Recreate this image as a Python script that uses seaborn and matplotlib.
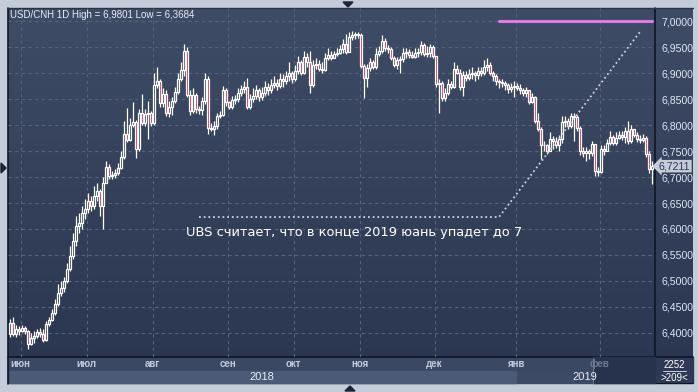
import numpy as np
import matplotlib
matplotlib.use("Agg")
import matplotlib.pyplot as plt
from matplotlib import transforms
from matplotlib.patches import Rectangle, Polygon
from matplotlib.colors import LinearSegmentedColormap
import seaborn as sns

# ---- data: USD/CNH daily bars (open of each bar = previous close) ----
first_open = 6.397
close = [6.419, 6.397, 6.407, 6.403, 6.409, 6.403, 6.378, 6.390, 6.394, 6.401,
         6.397, 6.386, 6.417, 6.424, 6.438, 6.455, 6.477, 6.486, 6.500, 6.523,
         6.548, 6.577, 6.606, 6.612, 6.631, 6.639, 6.654, 6.645, 6.664, 6.674,
         6.645, 6.689, 6.720, 6.703, 6.704, 6.708, 6.718, 6.739, 6.784, 6.772,
         6.801, 6.807, 6.755, 6.824, 6.805, 6.822, 6.824, 6.805, 6.878, 6.886,
         6.842, 6.861, 6.824, 6.836, 6.847, 6.865, 6.890, 6.907, 6.944, 6.859,
         6.828, 6.859, 6.832, 6.830, 6.847, 6.890, 6.795, 6.793, 6.799, 6.817,
         6.820, 6.867, 6.844, 6.836, 6.849, 6.851, 6.863, 6.869, 6.874, 6.836,
         6.851, 6.857, 6.867, 6.855, 6.863, 6.874, 6.867, 6.878, 6.882, 6.876,
         6.890, 6.886, 6.894, 6.901, 6.890, 6.905, 6.921, 6.901, 6.932, 6.921,
         6.878, 6.917, 6.918, 6.909, 6.907, 6.930, 6.936, 6.929, 6.938, 6.940,
         6.946, 6.957, 6.942, 6.971, 6.973, 6.975, 6.974, 6.915, 6.892, 6.911,
         6.921, 6.913, 6.938, 6.944, 6.963, 6.948, 6.946, 6.929, 6.917, 6.925,
         6.927, 6.940, 6.941, 6.936, 6.932, 6.940, 6.941, 6.954, 6.938, 6.940,
         6.950, 6.934, 6.880, 6.882, 6.853, 6.863, 6.880, 6.873, 6.909, 6.901,
         6.874, 6.896, 6.892, 6.898, 6.901, 6.896, 6.905, 6.900, 6.913, 6.917,
         6.901, 6.894, 6.886, 6.884, 6.882, 6.878, 6.869, 6.874, 6.876, 6.871,
         6.867, 6.863, 6.867, 6.845, 6.855, 6.809, 6.793, 6.761, 6.762, 6.751,
         6.774, 6.770, 6.762, 6.774, 6.807, 6.809, 6.799, 6.818, 6.815, 6.795,
         6.751, 6.747, 6.751, 6.747, 6.764, 6.712, 6.710, 6.755, 6.751, 6.766,
         6.778, 6.766, 6.776, 6.782, 6.778, 6.789, 6.770, 6.793, 6.782, 6.774,
         6.772, 6.776, 6.745, 6.716, 6.7211]
high = [6.426, 6.430, 6.415, 6.413, 6.415, 6.413, 6.405, 6.399, 6.403, 6.407,
        6.409, 6.407, 6.423, 6.430, 6.446, 6.465, 6.494, 6.500, 6.508, 6.535,
        6.567, 6.592, 6.625, 6.631, 6.645, 6.658, 6.670, 6.664, 6.683, 6.689,
        6.677, 6.701, 6.732, 6.726, 6.712, 6.716, 6.728, 6.751, 6.809, 6.834,
        6.813, 6.844, 6.811, 6.832, 6.861, 6.832, 6.847, 6.828, 6.900, 6.913,
        6.890, 6.871, 6.867, 6.847, 6.855, 6.874, 6.901, 6.921, 6.957, 6.950,
        6.867, 6.871, 6.863, 6.838, 6.855, 6.901, 6.894, 6.805, 6.809, 6.824,
        6.828, 6.876, 6.871, 6.847, 6.857, 6.859, 6.871, 6.878, 6.886, 6.892,
        6.861, 6.871, 6.878, 6.871, 6.874, 6.886, 6.882, 6.890, 6.894, 6.890,
        6.901, 6.898, 6.905, 6.921, 6.905, 6.917, 6.934, 6.925, 6.944, 6.940,
        6.944, 6.925, 6.929, 6.925, 6.921, 6.940, 6.948, 6.944, 6.944, 6.948,
        6.954, 6.967, 6.975, 6.979, 6.981, 6.980, 6.9801, 6.977, 6.919, 6.919,
        6.929, 6.925, 6.948, 6.952, 6.973, 6.969, 6.954, 6.950, 6.934, 6.932,
        6.934, 6.948, 6.948, 6.946, 6.944, 6.948, 6.948, 6.963, 6.959, 6.952,
        6.957, 6.954, 6.925, 6.890, 6.886, 6.871, 6.890, 6.886, 6.921, 6.917,
        6.909, 6.905, 6.905, 6.909, 6.913, 6.905, 6.913, 6.913, 6.925, 6.929,
        6.921, 6.905, 6.898, 6.890, 6.890, 6.886, 6.882, 6.882, 6.886, 6.882,
        6.880, 6.871, 6.874, 6.863, 6.863, 6.857, 6.824, 6.797, 6.770, 6.764,
        6.786, 6.780, 6.778, 6.782, 6.817, 6.817, 6.813, 6.824, 6.824, 6.820,
        6.799, 6.759, 6.759, 6.755, 6.770, 6.761, 6.720, 6.762, 6.761, 6.774,
        6.789, 6.782, 6.786, 6.789, 6.789, 6.797, 6.809, 6.801, 6.793, 6.786,
        6.782, 6.784, 6.780, 6.751, 6.732]
low = [6.392, 6.394, 6.392, 6.395, 6.401, 6.397, 6.3684, 6.376, 6.380, 6.390,
       6.392, 6.382, 6.384, 6.413, 6.423, 6.434, 6.452, 6.471, 6.479, 6.496,
       6.519, 6.542, 6.567, 6.592, 6.600, 6.620, 6.631, 6.635, 6.639, 6.654,
       6.625, 6.600, 6.689, 6.697, 6.697, 6.699, 6.705, 6.716, 6.735, 6.768,
       6.770, 6.797, 6.737, 6.751, 6.801, 6.799, 6.774, 6.799, 6.801, 6.871,
       6.836, 6.836, 6.817, 6.815, 6.820, 6.842, 6.861, 6.886, 6.894, 6.855,
       6.820, 6.824, 6.824, 6.822, 6.820, 6.840, 6.784, 6.788, 6.782, 6.793,
       6.813, 6.817, 6.838, 6.832, 6.832, 6.840, 6.845, 6.857, 6.863, 6.832,
       6.832, 6.844, 6.851, 6.847, 6.849, 6.857, 6.859, 6.863, 6.871, 6.867,
       6.871, 6.874, 6.880, 6.886, 6.882, 6.886, 6.898, 6.896, 6.898, 6.913,
       6.863, 6.874, 6.909, 6.905, 6.901, 6.905, 6.925, 6.925, 6.929, 6.934,
       6.938, 6.940, 6.938, 6.944, 6.965, 6.967, 6.969, 6.911, 6.853, 6.873,
       6.905, 6.909, 6.909, 6.934, 6.940, 6.944, 6.940, 6.925, 6.913, 6.909,
       6.901, 6.921, 6.929, 6.929, 6.929, 6.929, 6.932, 6.936, 6.934, 6.932,
       6.932, 6.930, 6.874, 6.824, 6.847, 6.847, 6.859, 6.869, 6.871, 6.898,
       6.867, 6.857, 6.886, 6.888, 6.890, 6.886, 6.890, 6.894, 6.896, 6.905,
       6.896, 6.886, 6.878, 6.871, 6.874, 6.867, 6.863, 6.865, 6.855, 6.867,
       6.861, 6.857, 6.855, 6.840, 6.842, 6.805, 6.789, 6.735, 6.751, 6.745,
       6.751, 6.755, 6.757, 6.751, 6.766, 6.797, 6.793, 6.795, 6.770, 6.789,
       6.743, 6.739, 6.732, 6.735, 6.741, 6.703, 6.703, 6.708, 6.743, 6.751,
       6.761, 6.761, 6.762, 6.774, 6.772, 6.766, 6.764, 6.766, 6.778, 6.768,
       6.766, 6.768, 6.739, 6.708, 6.687]

month_first_bar = [4, 26, 48, 73, 95, 117, 142, 169, 197]
month_labels = ["июн", "июл", "авг", "сен", "окт", "ноя", "дек", "янв", "фев"]
year_labels = ["2018", "2019"]
price_ticks = [6.40, 6.45, 6.50, 6.55, 6.60, 6.65, 6.70, 6.75, 6.80,
               6.85, 6.90, 6.95, 7.00]

target_level = 7.0
target_span = [163, 214]
forecast_bars = [63, 163, 210]
forecast_vals = [6.623, 6.623, 6.980]
last_price = close[-1]

title_text = "USD/CNH 1D High = 6,9801 Low = 6,3684"
note_text = "UBS считает, что в конце 2019 юань упадет до 7"
bar_count_text = ["2252", ">209<"]

# ---- style ----
sns.set_theme(style="dark")
plt.rcParams["font.family"] = ["Liberation Sans", "DejaVu Sans"]

FRAME = "#c4ccd9"
GRID = "#56637d"
TEXT = "#dde6f3"
RED = "#e3173e"
EDGE = "#0f1626"

W, H = 698, 392
fig = plt.figure(figsize=(W / 100, H / 100), dpi=100, facecolor=FRAME)

# chrome layer in pixel coordinates
canvas = fig.add_axes([0, 0, 1, 1], zorder=-1)
canvas.set_xlim(0, W)
canvas.set_ylim(H, 0)
canvas.axis("off")
grad = LinearSegmentedColormap.from_list("bg", ["#3f4c66", "#2a354f"])
canvas.imshow(np.linspace(0, 1, 256).reshape(-1, 1), cmap=grad, aspect="auto",
              extent=[8, 693, 383, 8], zorder=0)
# bottom date strip
canvas.add_patch(Rectangle((8, 357), 647, 14, color="#3b4863", zorder=1))
canvas.add_patch(Rectangle((8, 371), 647, 12, color="#3d4a66", zorder=1))
canvas.add_patch(Rectangle((10, 371), 506, 12, color="#4b5b77", zorder=1))
canvas.add_patch(Rectangle((593, 357), 62, 26, color="#27324d", zorder=5))
canvas.plot([593, 593], [358, 383], color="#6c7890", lw=0.8, zorder=6)
# bar counter box
canvas.add_patch(Rectangle((655, 357), 38, 26, color="#2e3a55", zorder=1))
canvas.plot([663, 686], [371, 371], color="#c8d2e0", lw=0.7, zorder=2)
canvas.text(674.5, 364.5, bar_count_text[0], color="white", fontsize=7,
            ha="center", va="center", zorder=3)
canvas.text(674.5, 378, bar_count_text[1], color="white", fontsize=7,
            ha="center", va="center", zorder=3)
# frame lines
canvas.plot([8, 693], [357, 357], color=EDGE, lw=1.2, zorder=4)
canvas.plot([655, 655], [8, 383], color=EDGE, lw=1.2, zorder=4)
canvas.plot([7.5, 7.5], [8, 384], color=EDGE, lw=1.2, zorder=4)
canvas.plot([8, 693], [7.5, 7.5], color="#2a3348", lw=1.0, zorder=4)
canvas.plot([655, 693], [383, 383], color=EDGE, lw=0.8, zorder=4)
# scroll markers
for pts in ([(343, 2), (353, 2), (348, 7)],
            [(345, 391), (355, 391), (350, 386)],
            [(1, 163), (1, 173), (6, 168)]):
    canvas.add_patch(Polygon(pts, closed=True, color="#1b2336", zorder=6))

# ---- price axes ----
ax = fig.add_axes([8 / W, 35 / H, 647 / W, 349 / H])
ax.set_facecolor("none")
n = len(close)
x = np.arange(n)
c = np.asarray(close)
o = np.r_[first_open, c[:-1]]
hi = np.asarray(high)
lo = np.asarray(low)
top = np.maximum(o, c)
bot = np.minimum(o, c)
up = c >= o

for m in month_first_bar:
    ax.axvline(m - 0.5, color=GRID, lw=0.8, dashes=(3, 3), zorder=1)
for p in price_ticks:
    ax.axhline(p, color=GRID, lw=0.8, dashes=(3, 3), zorder=1)

wick_up = hi > top
wick_dn = lo < bot
ax.vlines(x[wick_up], top[wick_up], hi[wick_up], color="white", lw=0.9, zorder=3)
ax.vlines(x[wick_dn], lo[wick_dn], bot[wick_dn], color="white", lw=0.9, zorder=3)
ax.bar(x[up], (top - bot)[up], bottom=bot[up], width=0.7, facecolor="none",
       edgecolor="white", linewidth=0.9, zorder=4)
ax.bar(x[~up], (top - bot)[~up], bottom=bot[~up], width=0.7, facecolor=RED,
       edgecolor="white", linewidth=0.9, zorder=4)

sns.lineplot(x=target_span, y=[target_level] * 2, color="#e07ce2", lw=2.2,
             ax=ax, zorder=5)
sns.lineplot(x=forecast_bars, y=forecast_vals, color="#c9d1de", lw=1.3,
             linestyle=(0, (1, 1.6)), ax=ax, zorder=5)

ax.set_xlim(-0.67, 215)
ax.set_ylim(6.3532, 7.026)
for s in ax.spines.values():
    s.set_visible(False)
ax.grid(False)
ax.set_xticks([])
ax.set_xlabel("")
ax.set_ylabel("")
ax.yaxis.tick_right()
ax.set_yticks(price_ticks)
ax.set_yticklabels([f"{p:.4f}".replace(".", ",") for p in price_ticks])
ax.tick_params(axis="y", length=0, pad=5, labelsize=7.6, labelcolor=TEXT)

ax.text(0.003, 0.979, title_text, transform=ax.transAxes, color="#e8eef6",
        fontsize=7, ha="left", va="center")
ax.text(58.7, 6.594, note_text, color="white", fontsize=9.4,
        family="DejaVu Sans", ha="left", va="center", zorder=6)

# last price tag
ax.text(1.006, last_price, f"{last_price:.4f}".replace(".", ","),
        transform=transforms.blended_transform_factory(ax.transAxes, ax.transData),
        color="#23386a", fontsize=7.6, ha="left", va="center", clip_on=False,
        bbox=dict(boxstyle="larrow,pad=0.12", fc="#c6cbd4", ec="none"), zorder=7)

# month and year labels
bt = transforms.blended_transform_factory(ax.transData, fig.transFigure)
for m, lab in zip(month_first_bar, month_labels):
    col = "#6d7891" if lab == "фев" else "#c3cbda"
    ax.text(m - 0.5, 1 - 364 / H, lab, transform=bt, color=col, fontsize=7,
            weight="bold", ha="center", va="center", clip_on=False,
            zorder=8 if lab == "фев" else 2)
year_mid = [(-0.67 + month_first_bar[7] - 0.5) / 2, (month_first_bar[7] - 0.5 + 215) / 2]
for xm, lab in zip(year_mid, year_labels):
    ax.text(xm, 1 - 377 / H, lab, transform=bt, color="#e6ecf5", fontsize=8,
            ha="center", va="center", clip_on=False, zorder=2)

fig.savefig("out.png", dpi=100, facecolor=FRAME)
